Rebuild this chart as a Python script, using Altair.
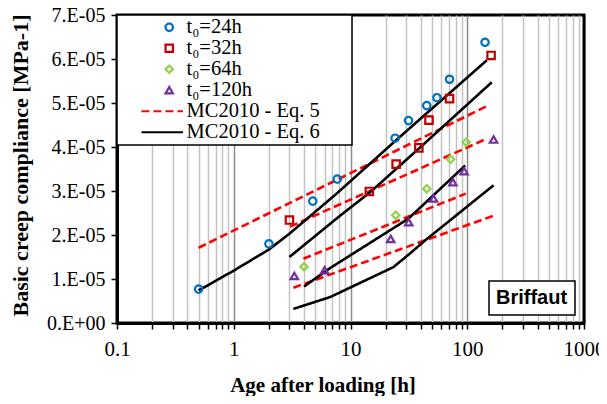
import altair as alt
import pandas as pd

SERIF = "Liberation Serif"

# ---------------- data (age after loading [h], compliance [1/MPa]) ----------------
SERIES = ["t\u2080=24h", "t\u2080=32h", "t\u2080=64h", "t\u2080=120h", "MC2010 - Eq. 5", "MC2010 - Eq. 6"]
COLORS = ["#0070C0", "#C00000", "#92D050", "#7030A0", "#FF0000", "#000000"]

t24_age = [0.5, 2.0, 4.75, 7.7, 24.1, 31.4, 45, 55, 70.5, 142]
t24_J = [0.77e-5, 1.80e-5, 2.77e-5, 3.27e-5, 4.20e-5, 4.60e-5, 4.94e-5, 5.12e-5, 5.54e-5, 6.38e-5]

t32_age = [3.0, 14.5, 24.6, 38.5, 47, 70.5, 160]
t32_J = [2.34e-5, 2.99e-5, 3.61e-5, 3.98e-5, 4.61e-5, 5.10e-5, 6.08e-5]

t64_age = [4.0, 24.4, 45, 72, 98]
t64_J = [1.28e-5, 2.45e-5, 3.05e-5, 3.72e-5, 4.11e-5]

t120_age = [3.3, 6.0, 22.1, 31.5, 51.4, 75.3, 94, 168]
t120_J = [1.07e-5, 1.20e-5, 1.91e-5, 2.29e-5, 2.83e-5, 3.20e-5, 3.45e-5, 4.17e-5]

# MC2010 - Eq. 5 (dashed)
eq5_a_age = [0.5, 145]
eq5_a_J = [1.71e-5, 4.92e-5]
eq5_b_age = [3.04, 147]
eq5_b_J = [2.19e-5, 4.19e-5]
eq5_c_age = [3.95, 97]
eq5_c_J = [1.46e-5, 2.94e-5]
eq5_d_age = [3.24, 168]
eq5_d_J = [0.80e-5, 2.44e-5]

# MC2010 - Eq. 6 (solid)
eq6_a_age = [0.5, 1.0, 2.0, 3.0, 7.6, 24, 147]
eq6_a_J = [0.74e-5, 1.19e-5, 1.67e-5, 2.03e-5, 2.94e-5, 4.13e-5, 5.97e-5]
eq6_b_age = [3.0, 8.15, 14.7, 38.7, 162]
eq6_b_J = [1.50e-5, 2.44e-5, 2.97e-5, 3.97e-5, 5.47e-5]
eq6_c_age = [4.0, 6.7, 31.3, 96]
eq6_c_J = [0.83e-5, 1.25e-5, 2.37e-5, 3.58e-5]
eq6_d_age = [3.24, 6.7, 23.3, 32, 43.7, 168]
eq6_d_J = [0.32e-5, 0.59e-5, 1.27e-5, 1.57e-5, 1.88e-5, 3.13e-5]

X_TICKS = [0.1, 0.2, 0.3, 0.4, 0.5, 0.6, 0.7, 0.8, 0.9,
           1, 2, 3, 4, 5, 6, 7, 8, 9,
           10, 20, 30, 40, 50, 60, 70, 80, 90,
           100, 200, 300, 400, 500, 600, 700, 800, 900, 1000]
Y_TICKS = [0, 1e-5, 2e-5, 3e-5, 4e-5, 5e-5, 6e-5, 7e-5]
SOURCE = "Briffaut"

# ---------------- tables ----------------
pts = []
for name, ages, js in [(SERIES[0], t24_age, t24_J), (SERIES[1], t32_age, t32_J),
                       (SERIES[2], t64_age, t64_J), (SERIES[3], t120_age, t120_J)]:
    for a, j in zip(ages, js):
        pts.append({"age": a, "J": j, "series": name})
df_pts = pd.DataFrame(pts)

lns = []
for cid, name, ages, js in [
    ("5a", SERIES[4], eq5_a_age, eq5_a_J), ("5b", SERIES[4], eq5_b_age, eq5_b_J),
    ("5c", SERIES[4], eq5_c_age, eq5_c_J), ("5d", SERIES[4], eq5_d_age, eq5_d_J),
    ("6a", SERIES[5], eq6_a_age, eq6_a_J), ("6b", SERIES[5], eq6_b_age, eq6_b_J),
    ("6c", SERIES[5], eq6_c_age, eq6_c_J), ("6d", SERIES[5], eq6_d_age, eq6_d_J)]:
    for a, j in zip(ages, js):
        lns.append({"age": a, "J": j, "series": name, "curve": cid, "src": SOURCE})
df_lns = pd.DataFrame(lns)

LINE_PATH = "M-7.5,0H3.7"
MAJOR = "abs(log(datum.value)/LN10 - round(log(datum.value)/LN10)) < 1e-6"
EDGE = "datum.value < 0.1001 || datum.value > 999"

main_legend = alt.Legend(
    title=None, orient="none", legendX=0, legendY=0, padding=2, columns=1,
    rowPadding=0, symbolSize=55, symbolStrokeWidth=2.2, symbolOffset=40,
    labelOffset=7, labelFont=SERIF, labelFontSize=20.5, labelColor="black",
    labelLimit=400, labelExpr="datum.label + '\u2800\u2800'",
    strokeColor="black", fillColor="white")

color = alt.Color("series:N", scale=alt.Scale(domain=SERIES, range=COLORS), legend=main_legend)

x_enc = alt.X("age:Q", scale=alt.Scale(type="log", domain=[0.1, 1000]),
              axis=alt.Axis(values=X_TICKS,
                            labelExpr=f"({MAJOR}) ? format(datum.value, '~g') : ''",
                            grid=True,
                            gridColor={"condition": [{"test": EDGE, "value": "black"},
                                                     {"test": MAJOR, "value": "#8c8c8c"}],
                                       "value": "#c3c3c3"},
                            gridWidth=1.5, tickSize=6, tickWidth=1.5, tickColor="black",
                            domainColor="black", domainWidth=3,
                            labelFont=SERIF, labelFontSize=21, labelColor="black",
                            labelBaseline="alphabetic", labelPadding=26.5,
                            labelFlush=False, labelOverlap=False,
                            title="Age after loading [h]", titleFont=SERIF, titleFontSize=21,
                            titleFontWeight="bold", titleColor="black", titleX=205.5, titleY=68,
                            titleAlign="center", titleBaseline="alphabetic"))

y_enc = alt.Y("J:Q", scale=alt.Scale(domain=[0, 7e-5], nice=False),
              axis=alt.Axis(values=Y_TICKS,
                            labelExpr="datum.value == 0 ? '0.E+00' : round(datum.value*1e5) + '.E-05'",
                            grid=False, tickSize=6, tickWidth=1.5, tickColor="black",
                            domainColor="black", domainWidth=3,
                            labelFont=SERIF, labelFontSize=20, labelColor="black", labelPadding=6,
                            title="Basic creep compliance [MPa-1]", titleFont=SERIF,
                            titleFontSize=22, titleFontWeight="bold", titleColor="black",
                            titleX=-97, titleY=150, titleAngle=270,
                            titleAlign="center", titleBaseline="middle"))

lines = alt.Chart(df_lns).mark_line().encode(
    x=x_enc, y=y_enc, color=color, detail="curve:N",
    strokeDash=alt.StrokeDash("series:N",
                              scale=alt.Scale(domain=SERIES,
                                              range=[[1, 0], [1, 0], [1, 0], [1, 0], [8, 4], [1, 0]]),
                              legend=main_legend),
    strokeWidth=alt.StrokeWidth("src:N",
                                scale=alt.Scale(type="point", domain=[SOURCE], range=[2.6, 2.6]),
                                legend=alt.Legend(title=None, orient="none", legendX=372, legendY=266,
                                                  padding=7, symbolOpacity=0, symbolSize=0,
                                                  symbolStrokeWidth=0, labelOffset={"expr": "-20"},
                                                  labelFont="Liberation Sans", labelFontWeight="bold",
                                                  labelFontSize=20, labelColor="black",
                                                  strokeColor="black", fillColor="white")),
)

points = alt.Chart(df_pts).mark_point(filled=False, size=55, strokeWidth=2.2, opacity=1).encode(
    x=x_enc, y=y_enc, color=color,
    shape=alt.Shape("series:N",
                    scale=alt.Scale(domain=SERIES,
                                    range=["circle", "square", "diamond", "triangle-up", LINE_PATH, LINE_PATH]),
                    legend=main_legend),
)

chart = alt.layer(lines, points).properties(
    width=467, height=308,
    padding={"left": 109, "top": 7, "right": 15, "bottom": 73},
    autosize=alt.AutoSizeParams(type="none"),
    background="white",
).configure_view(stroke="black", strokeWidth=3).configure_legend(strokeWidth=1.5)

chart.save("out.html", embed_options={"renderer": "svg", "actions": False})
